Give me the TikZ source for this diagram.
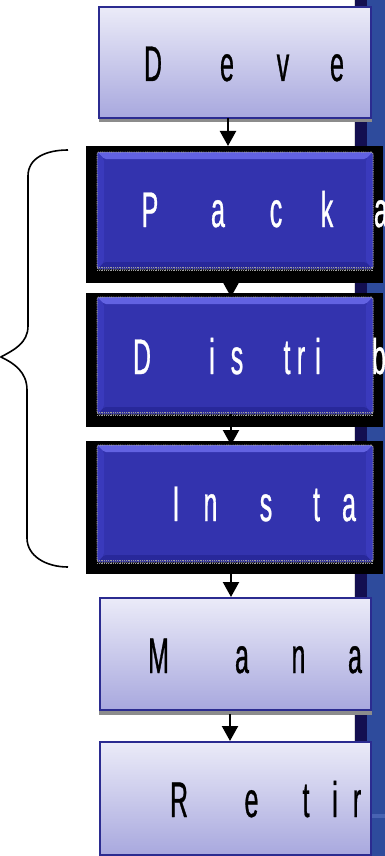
\documentclass[tikz,border=0pt]{standalone}
\usepackage{fontspec}
\newfontfamily\narrowsans[FakeStretch=0.5,FakeBold=0.6]{Liberation Sans}
\usetikzlibrary{arrows.meta}

\definecolor{boxedge}{HTML}{2B2B90}
\definecolor{boxtop}{HTML}{EBEBF8}
\definecolor{boxbottom}{HTML}{A8A8DE}
\definecolor{panelblue}{HTML}{3333AE}
\definecolor{panellight}{HTML}{6262E2}
\definecolor{paneldark}{HTML}{28289A}
\definecolor{panelside}{HTML}{3A3ABC}
\definecolor{stripnavy}{HTML}{130F50}
\definecolor{slideblue}{HTML}{2E4B9C}
\definecolor{slideband}{HTML}{4863B2}

\tikzset{
  lightbox/.style={draw=boxedge, line width=1.5pt, top color=boxtop, bottom color=boxbottom,
    inner sep=0pt, outer sep=0pt},
  shadowbar/.style={fill=black!45},
  frame/.style={fill=black, inner sep=0pt, outer sep=0pt},
  bluebox/.style={fill=panelblue, rounded corners=2pt, inner sep=0pt, outer sep=0pt,
    draw=gray!75, line width=1pt, dash pattern=on 0.9pt off 0.9pt,
    path picture={
      \fill[panellight] (path picture bounding box.north west) -- (path picture bounding box.north east)
        -- ([xshift=-7pt,yshift=-7pt]path picture bounding box.north east)
        -- ([xshift=7pt,yshift=-7pt]path picture bounding box.north west) -- cycle;
      \fill[paneldark] (path picture bounding box.south west) -- (path picture bounding box.south east)
        -- ([xshift=-7pt,yshift=7pt]path picture bounding box.south east)
        -- ([xshift=7pt,yshift=7pt]path picture bounding box.south west) -- cycle;
      \fill[panelside] (path picture bounding box.north west) -- ([xshift=7pt,yshift=-7pt]path picture bounding box.north west)
        -- ([xshift=7pt,yshift=7pt]path picture bounding box.south west) -- (path picture bounding box.south west) -- cycle;
      \fill[panelside] (path picture bounding box.north east) -- ([xshift=-7pt,yshift=-7pt]path picture bounding box.north east)
        -- ([xshift=-7pt,yshift=7pt]path picture bounding box.south east) -- (path picture bounding box.south east) -- cycle;
    }},
  dotband/.style={draw=gray!75, line width=1pt, dash pattern=on 0.9pt off 0.9pt},
  letter/.style={font=\narrowsans\fontsize{50}{50}\selectfont, inner sep=0pt, anchor=base},
  flow/.style={draw=black, line width=2.2pt, -{Triangle[width=16pt,length=15pt]}},
  bracket/.style={draw=black, line width=1.6pt, line join=round}
}

\begin{document}
\begin{tikzpicture}[x=1pt,y=-1pt]
\clip (0,0) rectangle (385,856);
\fill[white] (0,0) rectangle (385,856);

% slide edge on the right
\fill[gray!30] (353.5,0) rectangle (355,856);
\fill[stripnavy] (355,0) rectangle (367,856);
\fill[slideblue] (367,0) rectangle (385,856);
\fill[slideband] (367,814) rectangle (385,818);

% light boxes with their shadows
\fill[shadowbar] (99,116) rectangle (372,122);
\node[lightbox, minimum width=272pt, minimum height=111pt] (dev) at (235,62.5) {};
\fill[shadowbar] (99,709) rectangle (372,715);
\node[lightbox, minimum width=271pt, minimum height=112pt] (mana) at (235.5,654) {};
\node[lightbox, minimum width=271pt, minimum height=113pt] (retir) at (235.5,798.5) {};

% black frames and raised blue panels
\node[frame, minimum width=297pt, minimum height=137pt] (packf) at (234.5,214.5) {};
\node[frame, minimum width=297pt, minimum height=134pt] (distf) at (234.5,360) {};
\node[frame, minimum width=297pt, minimum height=133pt] (instf) at (234.5,507.5) {};

\node[bluebox, minimum width=276pt, minimum height=117pt] (pack) at (235,210.5) {};
\node[bluebox, minimum width=276pt, minimum height=117pt] (dist) at (235,355.5) {};
\node[bluebox, minimum width=276pt, minimum height=117pt] (inst) at (235,503.5) {};
\foreach \b in {pack,dist,inst}{
  \draw[dotband] ([yshift=2pt]\b.south west) -- ([yshift=2pt]\b.south east);
  \draw[dotband] ([yshift=-1.5pt]\b.south west) -- ([yshift=-1.5pt]\b.south east);
}

% connectors
\draw[flow] (dev.south -| 228,0) -- (packf.north -| 228,0);
\draw[flow] (pack.south -| 231,0) -- (dist.north -| 231,0);
\draw[flow] (dist.south -| 231,0) -- (inst.north -| 231,0);
\draw[flow] (instf.south -| 231,0) -- ([yshift=1pt]mana.north -| 231,0);
\draw[flow] ([yshift=-4pt]mana.south -| 230,0) -- ([yshift=1pt]retir.north -| 230,0);

% spaced titles
\foreach \ch/\xx [count=\k] in {D/153, e/227, v/283, e/337}
  \node[letter, text=black] (dev-\k) at (\xx,81) {\ch};
\foreach \ch/\xx [count=\k] in {P/150, a/218, c/276, k/327, a/381}
  \node[letter, text=white] (pack-\k) at (\xx,227) {\ch};
\foreach \ch/\xx [count=\k] in {D/142, i/212, s/237, t/287, r/301, i/318, b/379}
  \node[letter, text=white] (dist-\k) at (\xx,374) {\ch};
\foreach \ch/\xx [count=\k] in {I/176, n/210.5, s/266, t/316.5, a/349}
  \node[letter, text=white] (inst-\k) at (\xx,521) {\ch};
\foreach \ch/\xx [count=\k] in {M/158.5, a/242, n/298.5, a/355}
  \node[letter, text=black] (mana-\k) at (\xx,673) {\ch};
\foreach \ch/\xx [count=\k] in {R/179, e/251.5, t/306, i/335, r/357}
  \node[letter, text=black] (retir-\k) at (\xx,817) {\ch};

% curly brace grouping the three middle steps
\coordinate (bracetop) at (68,150);
\coordinate (bracetip) at (0.8,357);
\coordinate (bracebot) at (68,567);
\draw[bracket] (bracetop) .. controls (46,150) and (28,158) .. (28,176)
  -- (28,326) .. controls (28,343) and (14,350) .. (bracetip)
  .. controls (14,363) and (27,372) .. (27,390)
  -- (27,538) .. controls (27,556) and (46,567) .. (bracebot);
\end{tikzpicture}
\end{document}
